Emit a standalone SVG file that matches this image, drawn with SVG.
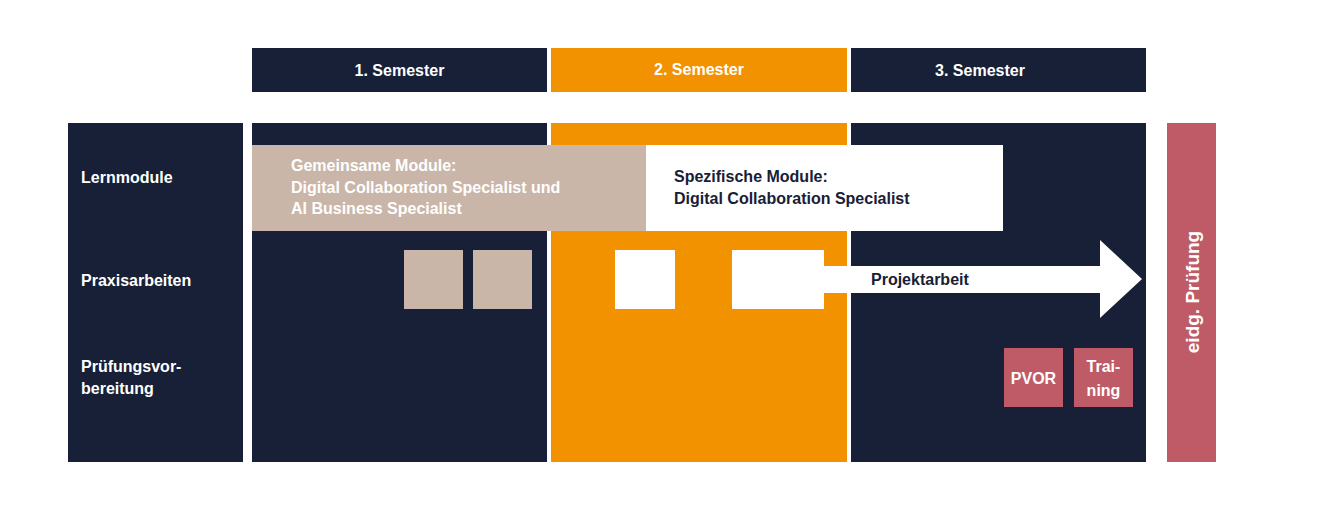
<svg xmlns="http://www.w3.org/2000/svg" width="1326" height="506" viewBox="0 0 1326 506">
<style>
.n{fill:#172036}.o{fill:#F39200}.b{fill:#C9B6A8}.w{fill:#fff}.r{fill:#BE5B67}
text{font-family:"Liberation Sans",Arial,sans-serif;font-weight:bold;font-size:16px}
.wt{fill:#fff}.dt{fill:#172036}
</style>
<rect width="1326" height="506" fill="#fff"/>
<g id="headers">
<rect class="n" x="252" y="48" width="295" height="44"/>
<text class="wt" x="399.5" y="76" text-anchor="middle">1. Semester</text>
<rect class="o" x="551" y="48" width="296" height="44"/>
<text class="wt" x="699" y="75" text-anchor="middle">2. Semester</text>
<rect class="n" x="851" y="48" width="295" height="44"/>
<text class="wt" x="980" y="76" text-anchor="middle">3. Semester</text>
</g>
<g id="rows">
<rect class="n" x="68" y="123" width="175" height="339"/>
<text class="wt" x="81" y="183">Lernmodule</text>
<text class="wt" x="81" y="286">Praxisarbeiten</text>
<text class="wt" x="81" y="372">Prüfungsvor-</text>
<text class="wt" x="81" y="394">bereitung</text>
</g>
<g id="columns">
<rect class="n" x="252" y="123" width="295" height="339"/>
<rect class="o" x="551" y="123" width="296" height="339"/>
<rect class="n" x="851" y="123" width="295" height="339"/>
</g>
<g id="gemeinsam">
<rect class="b" x="252" y="145" width="394" height="86"/>
<text class="wt" x="291" y="171">Gemeinsame Module:</text>
<text class="wt" x="291" y="193">Digital Collaboration Specialist und</text>
<text class="wt" x="291" y="214">AI Business Specialist</text>
</g>
<g id="spezifisch">
<rect class="w" x="646" y="145" width="357" height="86"/>
<text class="dt" x="674" y="182">Spezifische Module:</text>
<text class="dt" x="674" y="204">Digital Collaboration Specialist</text>
</g>
<g id="praxis">
<rect class="b" x="404" y="250" width="59" height="59"/>
<rect class="b" x="473" y="250" width="59" height="59"/>
<rect class="w" x="615" y="250" width="60" height="59"/>
<rect class="w" x="732" y="250" width="92" height="59"/>
</g>
<g id="projektarbeit">
<polygon class="w" points="824,266 1100,266 1100,240 1142,279 1100,318 1100,293 824,293"/>
<text class="dt" x="871" y="285">Projektarbeit</text>
</g>
<g id="pvor">
<rect class="r" x="1004" y="348" width="59" height="59"/>
<text class="wt" x="1033.5" y="384" text-anchor="middle">PVOR</text>
</g>
<g id="training">
<rect class="r" x="1074" y="348" width="59" height="59"/>
<text class="wt" x="1103.5" y="372" text-anchor="middle">Trai-</text>
<text class="wt" x="1103.5" y="396" text-anchor="middle">ning</text>
</g>
<g id="pruefung">
<rect class="r" x="1167" y="123" width="49" height="339"/>
<text class="wt" style="font-size:19px" transform="translate(1199,292) rotate(-90)" text-anchor="middle">eidg. Prüfung</text>
</g>
<g id="connectors"></g>
</svg>
